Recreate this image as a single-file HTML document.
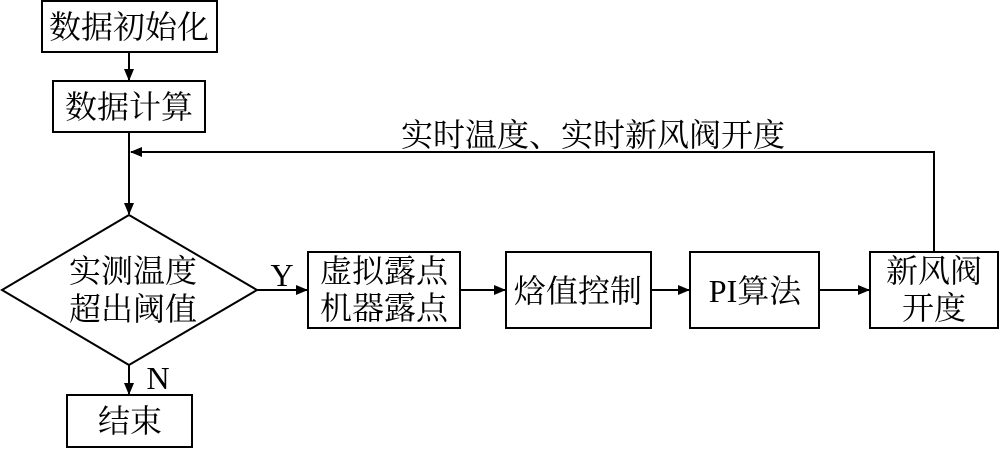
<!DOCTYPE html>
<html><head><meta charset="utf-8"><style>
body{margin:0;background:#fff;}
svg text{font-family:"Liberation Serif","Noto Serif CJK SC",serif;font-size:32px;fill:#000;}
</style></head><body>
<svg width="1000" height="448" viewBox="0 0 1000 448" xmlns="http://www.w3.org/2000/svg">
<defs><marker id="a" markerWidth="12" markerHeight="10" refX="11" refY="5" orient="auto" markerUnits="userSpaceOnUse"><path d="M0,0 L12,5 L0,10 z" fill="#000"/></marker></defs>
<g fill="none" stroke="#000" stroke-width="2">
<rect x="42" y="1" width="175" height="51"/>
<rect x="53" y="81" width="152" height="51"/>
<polygon points="129,215 257,290 129,365 2,290"/>
<rect x="308" y="252" width="152" height="76"/>
<rect x="506" y="252" width="145" height="76"/>
<rect x="690" y="252" width="129" height="76"/>
<rect x="870" y="252" width="128" height="76"/>
<rect x="67" y="395" width="125" height="52"/>
<line x1="129" y1="52" x2="129" y2="80" marker-end="url(#a)"/>
<line x1="129" y1="132" x2="129" y2="214" marker-end="url(#a)"/>
<polyline points="934,252 934,152 131,152" marker-end="url(#a)"/>
<line x1="257" y1="290" x2="307" y2="290" marker-end="url(#a)"/>
<line x1="460" y1="290" x2="505" y2="290" marker-end="url(#a)"/>
<line x1="651" y1="290" x2="689" y2="290" marker-end="url(#a)"/>
<line x1="819" y1="290" x2="869" y2="290" marker-end="url(#a)"/>
<line x1="129" y1="365" x2="129" y2="394" marker-end="url(#a)"/>
</g>
<text x="129" y="38" text-anchor="middle">数据初始化</text>
<text x="129" y="118" text-anchor="middle">数据计算</text>
<text x="593" y="146" text-anchor="middle">实时温度、实时新风阀开度</text>
<text x="133" y="282" text-anchor="middle">实测温度</text>
<text x="133" y="320" text-anchor="middle">超出阈值</text>
<text x="282" y="286" text-anchor="middle">Y</text>
<text x="158" y="389" text-anchor="middle">N</text>
<text x="384" y="282" text-anchor="middle">虚拟露点</text>
<text x="384" y="319" text-anchor="middle">机器露点</text>
<text x="578" y="302" text-anchor="middle">焓值控制</text>
<text x="755" y="302" text-anchor="middle">PI算法</text>
<text x="934" y="282" text-anchor="middle">新风阀</text>
<text x="934" y="319" text-anchor="middle">开度</text>
<text x="130" y="432" text-anchor="middle">结束</text>
</svg>
</body></html>
